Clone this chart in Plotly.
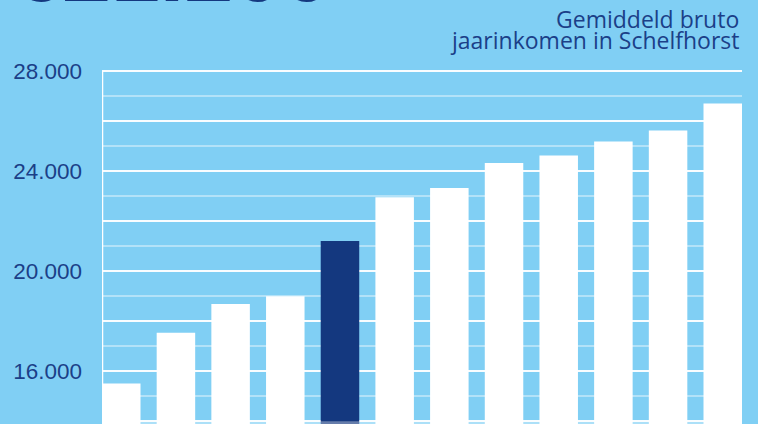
import plotly.graph_objects as go

# Data
categories = list(range(12))
values = [15500, 17530, 18680, 18990, 21200, 22950, 23320, 24320, 24620, 25180, 25620, 26700]
highlight_index = 4
tick_vals = [14000, 16000, 18000, 20000, 22000, 24000, 26000, 28000]
tick_text = ["", "16.000", "", "20.000", "", "24.000", "", "28.000"]
headline = "€21.200"
subtitle_lines = ["Gemiddeld bruto", "jaarinkomen in Schelfhorst"]

BG = "#80CFF4"
NAVY = "#14387F"
TEXT = "#1B3F88"

W, H = 758, 424
L, R, T, B = 101.5, 16, 60, 0
plot_w = W - L - R
plot_h = H - T - B

y_top = 28000 + (71 - T) * 40
y_bot = 28000 - (H - 71) * 40

colors = [NAVY if i == highlight_index else "white" for i in categories]

fig = go.Figure(go.Bar(x=categories, y=values, marker=dict(color=colors, line=dict(width=0)),
                       width=0.704, hoverinfo="skip"))

def px_to_paper_x(px):
    return (px - L) / plot_w

def px_to_paper_y(py):
    return (H - B - py) / plot_h

fig.update_layout(
    width=W, height=H,
    margin=dict(l=L, r=R, t=T, b=B, pad=0),
    paper_bgcolor=BG, plot_bgcolor=BG,
    showlegend=False,
    bargap=0.296,
    xaxis=dict(range=[-0.352, 11.352], showgrid=False, zeroline=False, showticklabels=False,
               showline=False, ticks=""),
    yaxis=dict(range=[y_bot, y_top], tickmode="array", tickvals=tick_vals, ticktext=tick_text,
               showgrid=True, gridcolor="rgba(255,255,255,0.95)", gridwidth=2.2,
               zeroline=False, showline=False, ticks="",
               ticklabelstandoff=19,
               tickfont=dict(family="Liberation Sans, Arial", size=22.5, color=TEXT),
               minor=dict(tickmode="linear", tick0=13000, dtick=2000, showgrid=True,
                          gridcolor="rgba(255,255,255,0.4)", gridwidth=1.6, ticks="")),
    shapes=[
        dict(type="line", xref="x", yref="y", x0=-0.352, x1=-0.352, y0=y_bot, y1=28000,
             line=dict(color="white", width=2.5), layer="below"),
        dict(type="line", xref="paper", yref="y", x0=0, x1=1, y0=13930, y1=13930,
             line=dict(color="rgba(255,255,255,0.35)", width=3), layer="above"),
    ],
    annotations=[
        dict(text=headline, xref="paper", yref="paper", x=px_to_paper_x(10), y=px_to_paper_y(22),
             xanchor="left", yanchor="bottom", showarrow=False,
             font=dict(family="Liberation Sans, Arial", size=88, color=NAVY, weight="bold")),
        dict(text=subtitle_lines[0], xref="paper", yref="paper", x=px_to_paper_x(741), y=px_to_paper_y(19),
             xanchor="right", yanchor="middle", showarrow=False,
             font=dict(family="Open Sans, Liberation Sans, Arial", size=23, color=TEXT)),
        dict(text=subtitle_lines[1], xref="paper", yref="paper", x=px_to_paper_x(741), y=px_to_paper_y(40),
             xanchor="right", yanchor="middle", showarrow=False,
             font=dict(family="Open Sans, Liberation Sans, Arial", size=23, color=TEXT)),
    ],
)

fig.write_html("out.html", config={"displayModeBar": False},
               post_script="document.body.style.margin='0';document.body.style.background='" + BG + "';")
